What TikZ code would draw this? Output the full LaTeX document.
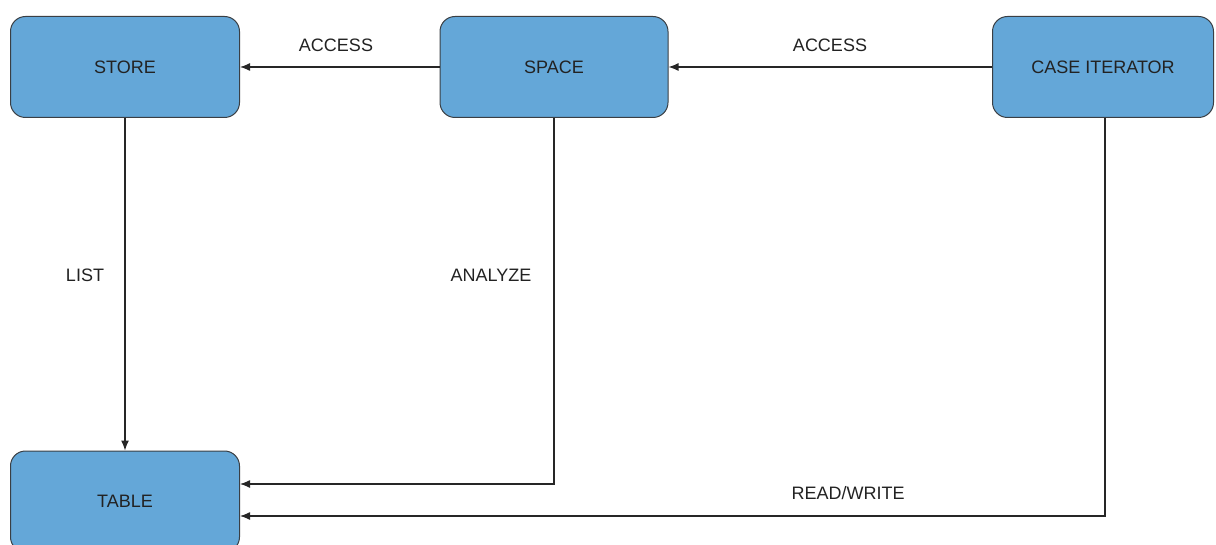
\documentclass[tikz,border=0pt]{standalone}
\usepackage{fontspec}
\setmainfont{Liberation Sans}
\usetikzlibrary{arrows.meta,calc}
\definecolor{boxfill}{HTML}{64A7D8}
\definecolor{boxline}{HTML}{3A3F44}
\definecolor{txt}{HTML}{222222}
\begin{document}
\begin{tikzpicture}[x=1pt,y=-1pt,
  box/.style={draw=boxline,line width=1pt,fill=boxfill,rounded corners=15pt,
    minimum height=101pt,inner sep=0pt,text=txt,font=\fontsize{18}{20}\selectfont},
  conn/.style={draw=black!85,line width=1.3pt,-{Latex[length=10pt,width=8pt]}},
  lbl/.style={text=txt,font=\fontsize{18}{20}\selectfont,inner sep=0pt}]
\useasboundingbox (0,0) rectangle (1216,545);
\clip (0,0) rectangle (1216,545);
\node[box,minimum width=229pt] (store) at (125,67) {STORE};
\node[box,minimum width=228pt] (space) at (554,67) {SPACE};
\node[box,minimum width=221pt] (case) at (1103,67) {CASE ITERATOR};
\node[box,minimum width=229pt] (table) at (125,501.5) {TABLE};
\draw[conn] (space.west) -- (store.east);
\draw[conn] (case.west) -- (space.east);
\draw[conn] (store.south) -- (table.north);
\draw[conn] (space.south) |- ([yshift=17.5pt]table.east);
\draw[conn] ([xshift=2pt]case.south) |- ([yshift=-14.5pt]table.east);
\node[lbl] (l1) at (336,45) {ACCESS};
\node[lbl] (l2) at (830,45) {ACCESS};
\node[lbl] (l3) at (85,275) {LIST};
\node[lbl] (l4) at (491,275) {ANALYZE};
\node[lbl] (l5) at (848,493) {READ/WRITE};
\end{tikzpicture}
\end{document}
